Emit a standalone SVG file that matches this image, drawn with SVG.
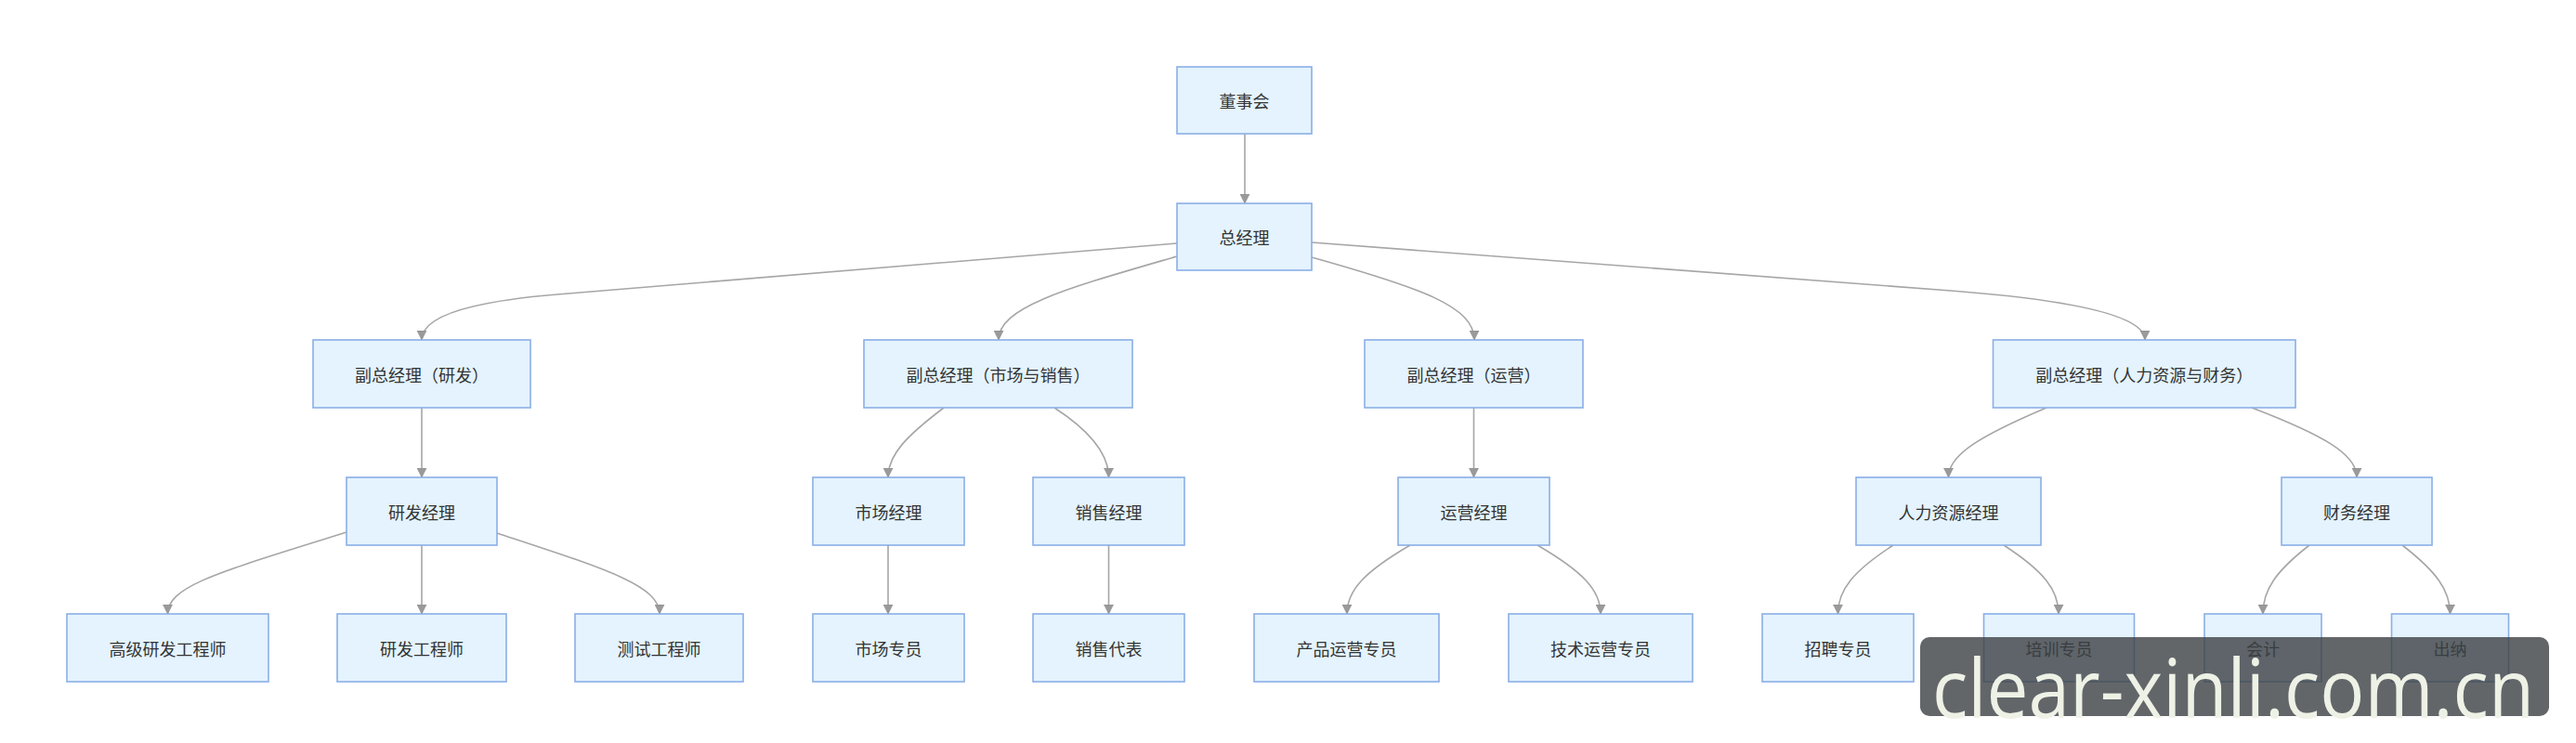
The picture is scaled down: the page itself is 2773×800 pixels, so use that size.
<svg xmlns="http://www.w3.org/2000/svg" width="2773" height="800" viewBox="0 0 2773 800">
<defs>
<style>
.box{fill:#e4f3fd;stroke:#8aaee6;stroke-width:1.6}
.lbl{font-family:"Noto Sans CJK SC","Noto Sans",sans-serif;font-size:18px;fill:#333;text-anchor:middle;dominant-baseline:central}
.edge{fill:none;stroke:#a6a6a6;stroke-width:1.6}
.wm{font-family:"Open Sans","Noto Sans",sans-serif;font-size:88px;fill:#eef2e6}
</style>
<marker id="arr" markerUnits="userSpaceOnUse" markerWidth="10" markerHeight="11" refX="10" refY="5" orient="auto" viewBox="0 0 10 10">
<path d="M0,0 L10,5 L0,10 z" fill="#9a9a9a" stroke="#888" stroke-width="0.6"/>
</marker>
</defs>
<rect width="2773" height="800" fill="#ffffff"/>
<g id="connectors">
<path class="edge" marker-end="url(#arr)" d="M1340,144 L1340,219"/>
<path class="edge" marker-end="url(#arr)" d="M1267,262 L600,317 Q454,329 454,366"/>
<path class="edge" marker-end="url(#arr)" d="M1267,276 C1150,310 1075,330 1075,366"/>
<path class="edge" marker-end="url(#arr)" d="M1412,277 C1530,310 1587,330 1587,366"/>
<path class="edge" marker-end="url(#arr)" d="M1412,261 L2100,313 Q2309,329 2309,366"/>
<path class="edge" marker-end="url(#arr)" d="M454,439 L454,514"/>
<path class="edge" marker-end="url(#arr)" d="M373,573 C240,615 180.5,630 180.5,661"/>
<path class="edge" marker-end="url(#arr)" d="M454,587 L454,661"/>
<path class="edge" marker-end="url(#arr)" d="M535,574 C650,612 710,630 710,661"/>
<path class="edge" marker-end="url(#arr)" d="M1016,439 C975,470 956,490 956,514"/>
<path class="edge" marker-end="url(#arr)" d="M1135,439 C1175,465 1193.5,490 1193.5,514"/>
<path class="edge" marker-end="url(#arr)" d="M956,587 L956,661"/>
<path class="edge" marker-end="url(#arr)" d="M1193.5,587 L1193.5,661"/>
<path class="edge" marker-end="url(#arr)" d="M1586.5,439 L1586.5,514"/>
<path class="edge" marker-end="url(#arr)" d="M1518,587 C1470,615 1450,635 1450,661"/>
<path class="edge" marker-end="url(#arr)" d="M1655,587 C1703,615 1723,635 1723,661"/>
<path class="edge" marker-end="url(#arr)" d="M2203,439 C2130,470 2097.5,490 2097.5,514"/>
<path class="edge" marker-end="url(#arr)" d="M2424,439 C2505,470 2537,490 2537,514"/>
<path class="edge" marker-end="url(#arr)" d="M2038,587 C1995,615 1978.5,635 1978.5,661"/>
<path class="edge" marker-end="url(#arr)" d="M2157,587 C2200,615 2216,635 2216,661"/>
<path class="edge" marker-end="url(#arr)" d="M2486,587 C2450,615 2436,635 2436,661"/>
<path class="edge" marker-end="url(#arr)" d="M2586,587 C2622,615 2637.5,635 2637.5,661"/>
</g>
<g id="n_board"><rect class="box" x="1267" y="72" width="145" height="72"/><text class="lbl" x="1339.5" y="108">董事会</text></g>
<g id="n_gm"><rect class="box" x="1267" y="219" width="145" height="72"/><text class="lbl" x="1339.5" y="255">总经理</text></g>
<g id="n_vp_rd"><rect class="box" x="337" y="366" width="234" height="73"/><text class="lbl" x="454" y="402.5">副总经理（研发）</text></g>
<g id="n_vp_ms"><rect class="box" x="930" y="366" width="289" height="73"/><text class="lbl" x="1074.5" y="402.5">副总经理（市场与销售）</text></g>
<g id="n_vp_op"><rect class="box" x="1469" y="366" width="235" height="73"/><text class="lbl" x="1586.5" y="402.5">副总经理（运营）</text></g>
<g id="n_vp_hf"><rect class="box" x="2145.5" y="366" width="325.5" height="73"/><text class="lbl" x="2308.25" y="402.5">副总经理（人力资源与财务）</text></g>
<g id="n_rd_mgr"><rect class="box" x="373" y="514" width="162" height="73"/><text class="lbl" x="454" y="550.5">研发经理</text></g>
<g id="n_mk_mgr"><rect class="box" x="875" y="514" width="163" height="73"/><text class="lbl" x="956.5" y="550.5">市场经理</text></g>
<g id="n_sl_mgr"><rect class="box" x="1112" y="514" width="163" height="73"/><text class="lbl" x="1193.5" y="550.5">销售经理</text></g>
<g id="n_op_mgr"><rect class="box" x="1505" y="514" width="163" height="73"/><text class="lbl" x="1586.5" y="550.5">运营经理</text></g>
<g id="n_hr_mgr"><rect class="box" x="1998" y="514" width="199" height="73"/><text class="lbl" x="2097.5" y="550.5">人力资源经理</text></g>
<g id="n_fi_mgr"><rect class="box" x="2456" y="514" width="162" height="73"/><text class="lbl" x="2537" y="550.5">财务经理</text></g>
<g id="n_sr_eng"><rect class="box" x="72" y="661" width="217" height="73"/><text class="lbl" x="180.5" y="697.5">高级研发工程师</text></g>
<g id="n_eng"><rect class="box" x="363" y="661" width="182" height="73"/><text class="lbl" x="454" y="697.5">研发工程师</text></g>
<g id="n_test"><rect class="box" x="619" y="661" width="181" height="73"/><text class="lbl" x="709.5" y="697.5">测试工程师</text></g>
<g id="n_mk_sp"><rect class="box" x="875" y="661" width="163" height="73"/><text class="lbl" x="956.5" y="697.5">市场专员</text></g>
<g id="n_sl_rep"><rect class="box" x="1112" y="661" width="163" height="73"/><text class="lbl" x="1193.5" y="697.5">销售代表</text></g>
<g id="n_pop"><rect class="box" x="1350" y="661" width="199" height="73"/><text class="lbl" x="1449.5" y="697.5">产品运营专员</text></g>
<g id="n_top"><rect class="box" x="1624" y="661" width="198" height="73"/><text class="lbl" x="1723" y="697.5">技术运营专员</text></g>
<g id="n_rec"><rect class="box" x="1897" y="661" width="163" height="73"/><text class="lbl" x="1978.5" y="697.5">招聘专员</text></g>
<g id="n_trn"><rect class="box" x="2135.5" y="661" width="162" height="73"/><text class="lbl" x="2216.5" y="697.5">培训专员</text></g>
<g id="n_acc"><rect class="box" x="2373" y="661" width="126" height="73"/><text class="lbl" x="2436" y="697.5">会计</text></g>
<g id="n_cash"><rect class="box" x="2574.5" y="661" width="126" height="73"/><text class="lbl" x="2637.5" y="697.5">出纳</text></g>
<g id="watermark">
<rect x="2067" y="686" width="677" height="85" rx="10" fill="#3c4043" fill-opacity="0.8"/>
<text class="wm" x="2080" y="773" textLength="648" lengthAdjust="spacingAndGlyphs">clear-xinli.com.cn</text>
</g>
</svg>
